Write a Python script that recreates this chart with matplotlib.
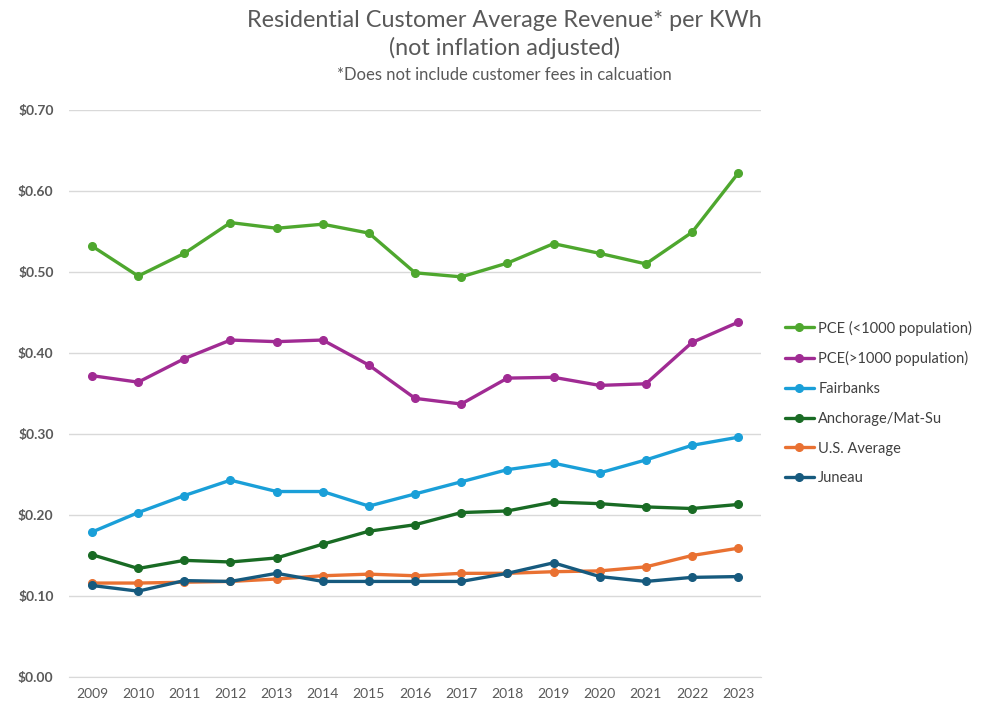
import matplotlib
matplotlib.use("Agg")
import matplotlib.pyplot as plt
from matplotlib.ticker import FuncFormatter, MultipleLocator

plt.rcParams['font.family'] = ['Lato', 'DejaVu Sans']

years = list(range(2009, 2024))

pce_small = [0.532, 0.495, 0.523, 0.561, 0.554, 0.559, 0.548, 0.499, 0.494, 0.511, 0.535, 0.523, 0.510, 0.549, 0.622]
pce_large = [0.372, 0.364, 0.393, 0.416, 0.414, 0.416, 0.385, 0.344, 0.337, 0.369, 0.370, 0.360, 0.362, 0.413, 0.438]
fairbanks = [0.179, 0.203, 0.224, 0.243, 0.229, 0.229, 0.211, 0.226, 0.241, 0.256, 0.264, 0.252, 0.268, 0.286, 0.296]
anchorage = [0.151, 0.134, 0.144, 0.142, 0.147, 0.164, 0.180, 0.188, 0.203, 0.205, 0.216, 0.214, 0.210, 0.208, 0.213]
us_avg = [0.116, 0.116, 0.117, 0.118, 0.121, 0.125, 0.127, 0.125, 0.128, 0.128, 0.130, 0.131, 0.136, 0.150, 0.159]
juneau = [0.113, 0.106, 0.119, 0.118, 0.128, 0.118, 0.118, 0.118, 0.118, 0.128, 0.141, 0.124, 0.118, 0.123, 0.124]

series = [
    ("PCE (<1000 population)", pce_small, "#4EA72E"),
    ("PCE(>1000 population)", pce_large, "#A02B93"),
    ("Fairbanks", fairbanks, "#1A9FD8"),
    ("Anchorage/Mat-Su", anchorage, "#196B24"),
    ("U.S. Average", us_avg, "#E97132"),
    ("Juneau", juneau, "#165A7E"),
]

fig = plt.figure(figsize=(9.99, 7.11), dpi=100)
ax = fig.add_axes([0.069, 0.0478, 0.693, 0.7975])

for name, vals, col in series:
    ax.plot(years, vals, color=col, lw=2.4, marker='o', markersize=5.5,
            label=name, solid_capstyle='round', solid_joinstyle='round')

ax.set_xlim(2008.5, 2023.5)
ax.set_ylim(0, 0.70)
ax.yaxis.set_major_locator(MultipleLocator(0.10))
ax.yaxis.set_major_formatter(FuncFormatter(lambda v, p: f"${v:.2f}"))
ax.set_xticks(years)
ax.set_xticklabels([str(y) for y in years])
ax.grid(axis='y', color='#D9D9D9', lw=1)
ax.set_axisbelow(True)
for s in ['top', 'right', 'left']:
    ax.spines[s].set_visible(False)
ax.spines['bottom'].set_color('#D9D9D9')
ax.tick_params(axis='both', length=0, colors='#595959', labelsize=10)
ax.tick_params(axis='y', pad=11)
ax.tick_params(axis='x', pad=8)
for lab in ax.get_yticklabels():
    lab.set_fontweight('bold')

fig.text(0.505, 0.971, "Residential Customer Average Revenue* per KWh", ha='center', va='center',
         fontsize=16.8, color='#595959')
fig.text(0.505, 0.932, "(not inflation adjusted)", ha='center', va='center',
         fontsize=16.8, color='#595959')
fig.text(0.505, 0.895, "*Does not include customer fees in calcuation", ha='center', va='center',
         fontsize=12, color='#595959')

leg = ax.legend(loc='upper left', bbox_to_anchor=(1.015, 0.652), frameon=False,
                fontsize=10.5, labelspacing=1.08, handlelength=2.0, handletextpad=0.3,
                labelcolor='#404040')

fig.savefig("out.png", dpi=100)
